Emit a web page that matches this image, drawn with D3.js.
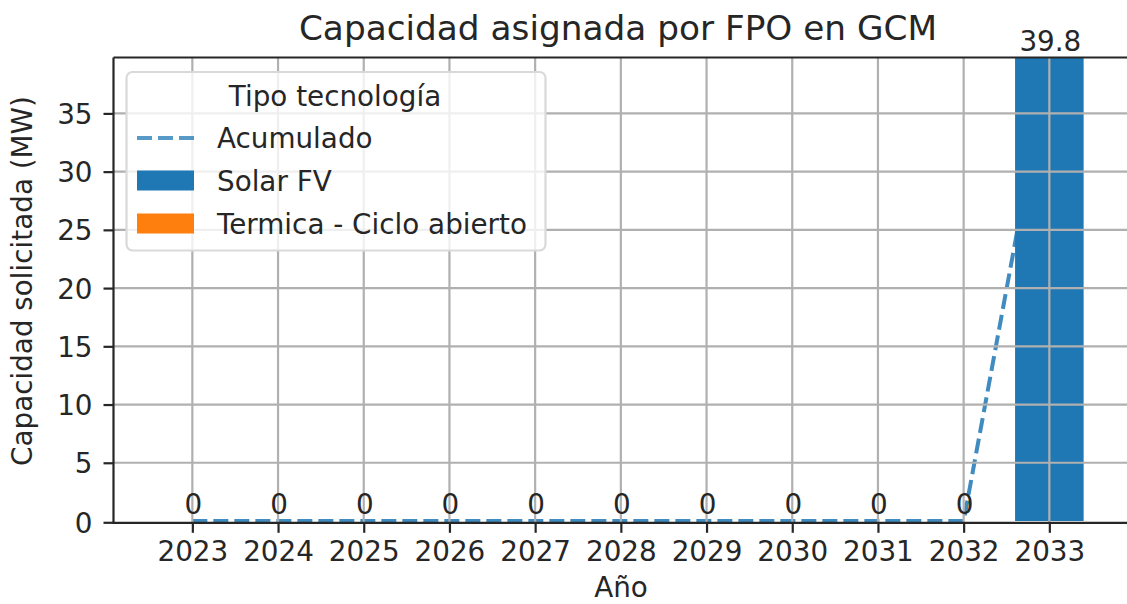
<!DOCTYPE html>
<html>
<head>
<meta charset="utf-8">
<script src="https://d3js.org/d3.v7.min.js"></script>
<style>
body { margin: 0; background: #fff; }
text { font-family: "DejaVu Sans", sans-serif; fill: #262626; }
</style>
</head>
<body>
<script>
// data
var years = ["2023","2024","2025","2026","2027","2028","2029","2030","2031","2032","2033"];
var solar_fv = [0,0,0,0,0,0,0,0,0,0,39.8];
var termica = [0,0,0,0,0,0,0,0,0,0,0];
var acumulado = [0,0,0,0,0,0,0,0,0,0,39.8];
var bar_labels = ["0","0","0","0","0","0","0","0","0","0","39.8"];
var y_ticks = [0,5,10,15,20,25,30,35];

var w = 1127;
var h = 604;

// plot box (right edge runs past the picture like in the original)
var left = 113.5;
var top_ = 57.5;
var bottom = 521;
var spine_y = bottom + 1.8; // bottom spine sits a hair below zero

var x = d3.scaleLinear()
    .domain([-0.92, 10.94])
    .range([left, left + 11.86*85.7]);
var y = d3.scaleLinear()
    .domain([0, 39.8])
    .range([bottom, top_]);
var bar_w = 0.8*85.7;
var fs = 27.8;

var svg = d3.select("body")
    .append("svg")
    .attr("width", w)
    .attr("height", h);

svg.append("defs").append("clipPath").attr("id","plot-clip")
    .append("rect")
    .attr("x", left).attr("y", top_)
    .attr("width", w - left).attr("height", spine_y - top_);

var plot = svg.append("g").attr("clip-path","url(#plot-clip)");

// accumulated line (sits under the bars)
var line = d3.line()
    .x(function(d,i){ return x(i); })
    .y(function(d){ return y(d); });
plot.append("path")
    .datum(acumulado)
    .attr("d", line)
    .attr("fill","none")
    .attr("stroke","#1f77b4")
    .attr("stroke-opacity",0.85)
    .attr("stroke-width",4)
    .attr("stroke-dasharray","15,6");

// stacked bars
var bars = plot.append("g").attr("id","bars");
bars.selectAll("rect.solar")
    .data(solar_fv)
    .enter()
    .append("rect")
    .attr("class","solar")
    .attr("x", function(d,i){ return x(i) - bar_w/2; })
    .attr("y", function(d){ return y(d); })
    .attr("width", bar_w)
    .attr("height", function(d){ return y(0) - y(d); })
    .attr("fill","#1f77b4");
bars.selectAll("rect.termica")
    .data(termica)
    .enter()
    .append("rect")
    .attr("class","termica")
    .attr("x", function(d,i){ return x(i) - bar_w/2; })
    .attr("y", function(d,i){ return y(d + solar_fv[i]); })
    .attr("width", bar_w)
    .attr("height", function(d){ return y(0) - y(d); })
    .attr("fill","#ff7f0e");

// grid on top of bars
var grid = svg.append("g").attr("id","grid");
grid.selectAll("line.gx")
    .data(years)
    .enter()
    .append("line")
    .attr("class","gx")
    .attr("x1", function(d,i){ return x(i); })
    .attr("x2", function(d,i){ return x(i); })
    .attr("y1", top_)
    .attr("y2", spine_y)
    .attr("stroke","#b0b0b0")
    .attr("stroke-width",2.2);
grid.selectAll("line.gy")
    .data(y_ticks.slice(1))
    .enter()
    .append("line")
    .attr("class","gy")
    .attr("x1", left)
    .attr("x2", w)
    .attr("y1", function(d){ return y(d); })
    .attr("y2", function(d){ return y(d); })
    .attr("stroke","#b0b0b0")
    .attr("stroke-width",2.2);

// axes
var xAxis = svg.append("g")
    .attr("transform","translate(0," + spine_y + ")")
    .call(d3.axisBottom(x)
        .tickValues(d3.range(years.length))
        .tickFormat(function(d){ return years[d]; })
        .tickSize(10)
        .tickPadding(8));
var yAxis = svg.append("g")
    .attr("transform","translate(" + left + ",0)")
    .call(d3.axisLeft(y)
        .tickValues(y_ticks.slice(1))
        .tickSize(10)
        .tickPadding(11));
// zero tick lines up with the spine
yAxis.append("line").attr("class","zero").attr("x1",-10).attr("x2",0)
    .attr("y1",spine_y).attr("y2",spine_y);
yAxis.append("text").attr("class","zero").attr("x",-21).attr("y",spine_y)
    .attr("text-anchor","end").text("0");
[xAxis, yAxis].forEach(function(a){
    a.select(".domain").remove();
    a.selectAll("line").attr("stroke","#262626").attr("stroke-width",2.2);
    a.selectAll("text").attr("font-size",fs).attr("fill","#262626")
        .style("font-family","'DejaVu Sans', sans-serif");
});
xAxis.selectAll(".tick text").attr("dy","0.71em");
yAxis.selectAll("text").attr("dy","0.36em");

// spines: left, top, bottom
svg.append("line").attr("x1",left).attr("x2",left).attr("y1",top_).attr("y2",spine_y)
    .attr("stroke","#262626").attr("stroke-width",2.2);
svg.append("line").attr("x1",left).attr("x2",w).attr("y1",top_).attr("y2",top_)
    .attr("stroke","#262626").attr("stroke-width",2.2);
svg.append("line").attr("x1",left - 1.1).attr("x2",w).attr("y1",spine_y).attr("y2",spine_y)
    .attr("stroke","#262626").attr("stroke-width",2.2);

// bar labels
svg.append("g").selectAll("text")
    .data(bar_labels)
    .enter()
    .append("text")
    .attr("x", function(d,i){ return x(i) + 1; })
    .attr("y", function(d,i){ return y(solar_fv[i] + termica[i]) - 7; })
    .attr("text-anchor","middle")
    .attr("font-size",fs)
    .text(function(d){ return d; });

// titles
svg.append("text")
    .attr("x", 618).attr("y", 40)
    .attr("text-anchor","middle")
    .attr("font-size",34.3)
    .text("Capacidad asignada por FPO en GCM");
svg.append("text")
    .attr("x", 621).attr("y", 597)
    .attr("text-anchor","middle")
    .attr("font-size",fs)
    .text("Año");
svg.append("text")
    .attr("transform","translate(32,281) rotate(-90)")
    .attr("text-anchor","middle")
    .attr("font-size",fs)
    .text("Capacidad solicitada (MW)");

// legend
var legend_items = [
    {name:"Acumulado", kind:"line", color:"#1f77b4"},
    {name:"Solar FV", kind:"patch", color:"#1f77b4"},
    {name:"Termica - Ciclo abierto", kind:"patch", color:"#ff7f0e"}
];
var legend = svg.append("g").attr("id","legend");
legend.append("rect")
    .attr("x",126.5).attr("y",72)
    .attr("width",419).attr("height",178.5)
    .attr("rx",6).attr("ry",6)
    .attr("fill","#fff").attr("fill-opacity",0.8)
    .attr("stroke","#d9d9d9").attr("stroke-width",2.2);
legend.append("text")
    .attr("x",335).attr("y",106)
    .attr("text-anchor","middle")
    .attr("font-size",fs)
    .text("Tipo tecnología");
var entries = legend.selectAll("g.entry")
    .data(legend_items)
    .enter()
    .append("g")
    .attr("class","entry")
    .attr("transform", function(d,i){ return "translate(0," + (138 + i*43) + ")"; });
entries.filter(function(d){ return d.kind == "line"; })
    .append("line")
    .attr("x1",137).attr("x2",194).attr("y1",0).attr("y2",0)
    .attr("stroke", function(d){ return d.color; })
    .attr("stroke-opacity",0.75)
    .attr("stroke-width",4)
    .attr("stroke-dasharray","15,6");
entries.filter(function(d){ return d.kind == "patch"; })
    .append("rect")
    .attr("x",137).attr("y",-10.5)
    .attr("width",57).attr("height",20)
    .attr("fill", function(d){ return d.color; });
entries.append("text")
    .attr("x",217).attr("y",0)
    .attr("dy","0.36em")
    .attr("font-size",fs)
    .text(function(d){ return d.name; });
</script>
</body>
</html>
